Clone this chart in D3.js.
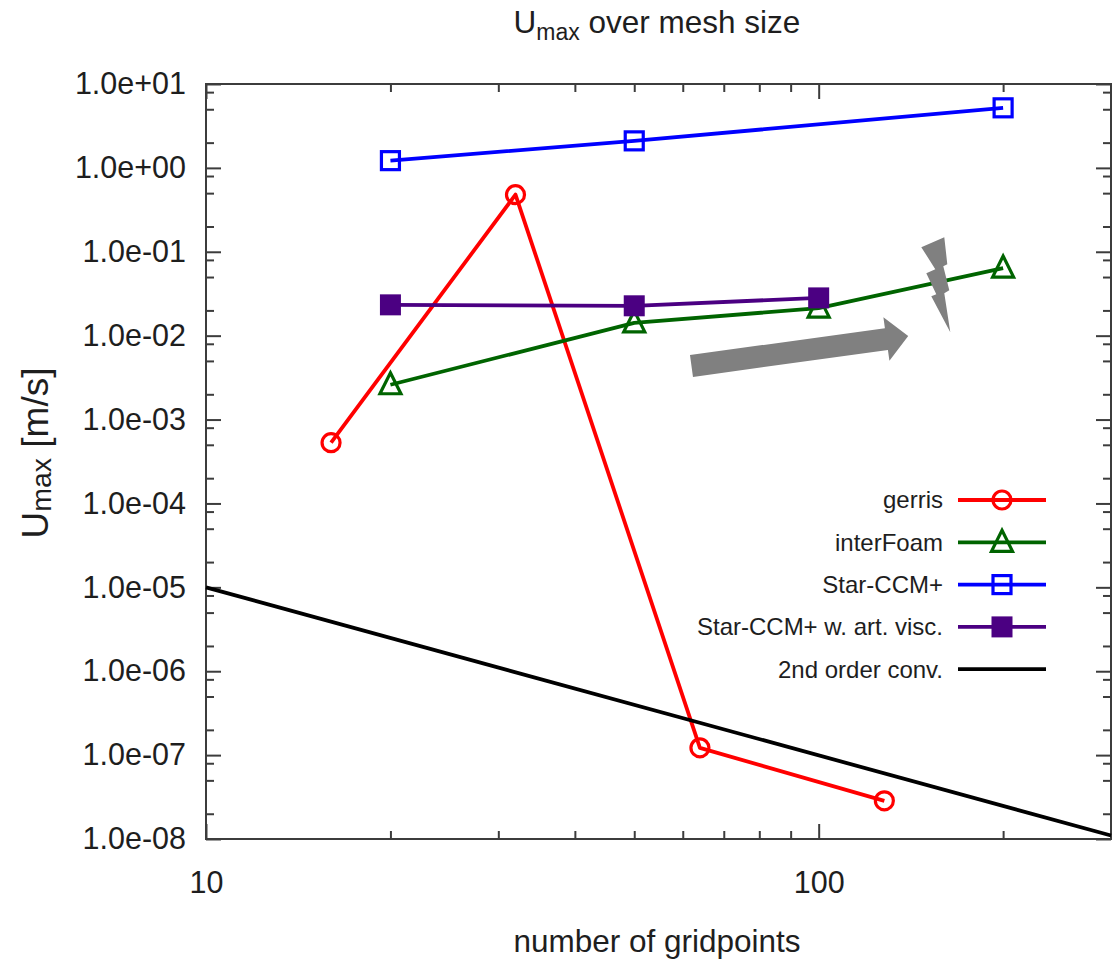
<!DOCTYPE html>
<html>
<head>
<meta charset="utf-8">
<script src="https://cdn.jsdelivr.net/npm/d3@7"></script>
<style>
  html, body { margin: 0; padding: 0; background: #fff; }
  svg { display: block; font-family: "Liberation Sans", Arial, sans-serif; }
</style>
</head>
<body>
<svg id="chart" width="1115" height="966"></svg>
<script>
// ---- data: maximum velocity vs. number of grid points ----
const gerrisX = [16, 32, 64, 128];
const gerrisY = [5.3e-4, 0.48, 1.22e-7, 2.85e-8];

const interFoamX = [20, 50, 100, 200];
const interFoamY = [2.6e-3, 0.0142, 0.0213, 0.064];

const starX = [20, 50, 200];
const starY = [1.22, 2.1, 5.2];

const starViscX = [20, 50, 100];
const starViscY = [0.0233, 0.0227, 0.0282];

const convX = [10, 300];
const convY = [1e-5, 1.1e-8];

// ---- axes ----
const xMajorTicks = [10, 100];
const xMajorLabels = ["10", "100"];
const xMinorTicks = [20, 30, 40, 50, 60, 70, 80, 90, 200];

const yMajorTicks = [1e1, 1e0, 1e-1, 1e-2, 1e-3, 1e-4, 1e-5, 1e-6, 1e-7, 1e-8];
const yMajorLabels = ["1.0e+01", "1.0e+00", "1.0e-01", "1.0e-02", "1.0e-03",
                      "1.0e-04", "1.0e-05", "1.0e-06", "1.0e-07", "1.0e-08"];
const yMinorMultipliers = [2, 5, 8];

const seriesNames = ["gerris", "interFoam", "Star-CCM+", "Star-CCM+ w. art. visc.", "2nd order conv."];
const seriesColors = ["#ff0000", "#006400", "#0000ff", "#4b0082", "#000000"];
const seriesMarkers = ["circle", "triangle", "square", "squareFilled", "none"];

// ---- layout ----
const svg = d3.select("#chart");
const plotLeft = 206, plotRight = 1111, plotTop = 84, plotBottom = 839;

const x = d3.scaleLog().domain([10, 300]).range([plotLeft, plotRight]);
const y = d3.scaleLog().domain([1e-8, 1e1]).range([plotBottom, plotTop]);

const axisColor = "#3c3c3c";
const textColor = "#1e1e1e";

// minor y ticks: 2, 5, 8 in each decade
const yMinorTicks = [];
yMajorTicks.slice(1).forEach(d => yMinorMultipliers.forEach(m => yMinorTicks.push(d * m)));

function styleAxis(g) {
  g.select(".domain").remove();
  g.selectAll("line").attr("stroke", axisColor).attr("stroke-width", 2);
  g.selectAll("text").attr("fill", textColor).attr("font-size", 30.5)
    .attr("font-family", '"Liberation Sans", Arial, sans-serif');
}

// left
svg.append("g").attr("transform", `translate(${plotLeft},0)`)
  .call(d3.axisLeft(y).tickValues(yMajorTicks).tickSizeInner(-15).tickSizeOuter(0).tickPadding(20)
    .tickFormat((d, i) => yMajorLabels[i]))
  .call(styleAxis);
svg.append("g").attr("transform", `translate(${plotLeft},0)`)
  .call(d3.axisLeft(y).tickValues(yMinorTicks).tickSizeInner(-8).tickSizeOuter(0).tickFormat(""))
  .call(styleAxis);
// right (mirror)
svg.append("g").attr("transform", `translate(${plotRight},0)`)
  .call(d3.axisRight(y).tickValues(yMajorTicks).tickSizeInner(-15).tickSizeOuter(0).tickFormat(""))
  .call(styleAxis);
svg.append("g").attr("transform", `translate(${plotRight},0)`)
  .call(d3.axisRight(y).tickValues(yMinorTicks).tickSizeInner(-8).tickSizeOuter(0).tickFormat(""))
  .call(styleAxis);
// bottom
svg.append("g").attr("transform", `translate(0,${plotBottom})`)
  .call(d3.axisBottom(x).tickValues(xMajorTicks).tickSizeInner(-15).tickSizeOuter(0).tickPadding(32)
    .tickFormat((d, i) => xMajorLabels[i]))
  .call(styleAxis);
svg.append("g").attr("transform", `translate(0,${plotBottom})`)
  .call(d3.axisBottom(x).tickValues(xMinorTicks).tickSizeInner(-8).tickSizeOuter(0).tickFormat(""))
  .call(styleAxis);
// top (mirror)
svg.append("g").attr("transform", `translate(0,${plotTop})`)
  .call(d3.axisTop(x).tickValues(xMajorTicks).tickSizeInner(-15).tickSizeOuter(0).tickFormat(""))
  .call(styleAxis);
svg.append("g").attr("transform", `translate(0,${plotTop})`)
  .call(d3.axisTop(x).tickValues(xMinorTicks).tickSizeInner(-8).tickSizeOuter(0).tickFormat(""))
  .call(styleAxis);

// frame
svg.append("rect")
  .attr("x", plotLeft).attr("y", plotTop)
  .attr("width", plotRight - plotLeft).attr("height", plotBottom - plotTop)
  .attr("fill", "none").attr("stroke", axisColor).attr("stroke-width", 2);

// ---- series ----
const allSeries = [
  { xs: gerrisX, ys: gerrisY },
  { xs: interFoamX, ys: interFoamY },
  { xs: starX, ys: starY },
  { xs: starViscX, ys: starViscY },
  { xs: convX, ys: convY }
];

function drawMarker(g, type, color, cx, cy) {
  const sw = 3.2;
  if (type === "circle") {
    g.append("circle").attr("cx", cx).attr("cy", cy).attr("r", 9)
      .attr("fill", "none").attr("stroke", color).attr("stroke-width", sw);
  } else if (type === "triangle") {
    g.append("path")
      .attr("d", `M${cx},${cy - 12} L${cx + 10.5},${cy + 9} L${cx - 10.5},${cy + 9} Z`)
      .attr("fill", "none").attr("stroke", color).attr("stroke-width", sw)
      .attr("stroke-linejoin", "miter");
  } else if (type === "square") {
    g.append("rect").attr("x", cx - 9).attr("y", cy - 9).attr("width", 18).attr("height", 18)
      .attr("fill", "none").attr("stroke", color).attr("stroke-width", sw);
  } else if (type === "squareFilled") {
    g.append("rect").attr("x", cx - 10.5).attr("y", cy - 10.5).attr("width", 21).attr("height", 21)
      .attr("fill", color).attr("stroke", "none");
  }
}

const line = d3.line().x(d => x(d[0])).y(d => y(d[1]));
const plot = svg.append("g");

allSeries.forEach((s, i) => {
  const pts = s.xs.map((v, k) => [v, s.ys[k]]);
  const g = plot.append("g");
  g.append("path").datum(pts).attr("d", line)
    .attr("fill", "none").attr("stroke", seriesColors[i])
    .attr("stroke-width", 3.8).attr("stroke-linejoin", "round");
  pts.forEach(p => drawMarker(g, seriesMarkers[i], seriesColors[i], x(p[0]), y(p[1])));
});

// ---- annotations: trend arrow and break marker ----
const arrowFrom = [62, 4.35e-3];
const arrowTo = [140, 9.9e-3];
const boltAt = [155, 0.040];
const annotColor = "#808080";

(function drawArrow() {
  const x0 = x(arrowFrom[0]), y0 = y(arrowFrom[1]);
  const x1 = x(arrowTo[0]), y1 = y(arrowTo[1]);
  const len = Math.hypot(x1 - x0, y1 - y0);
  const ang = Math.atan2(y1 - y0, x1 - x0) * 180 / Math.PI;
  const hw = 11, hh = 22, hl = 22;
  const pts = [[0, -hw], [len - hl, -hw], [len - hl, -hh], [len, 0], [len - hl, hh], [len - hl, hw], [0, hw]];
  svg.append("path")
    .attr("d", "M" + pts.map(p => p.join(",")).join("L") + "Z")
    .attr("transform", `translate(${x0},${y0}) rotate(${ang})`)
    .attr("fill", annotColor);
})();

(function drawBolt() {
  const cx = x(boltAt[0]), cy = y(boltAt[1]);
  const shape = [[-14, -38], [9, -48], [12, -21], [8, -19], [14, 5], [9, 8], [15, 47],
                 [-4, 11], [1, 9], [-9, -12], [0, -16]];
  svg.append("path")
    .attr("d", "M" + shape.map(p => `${cx + p[0]},${cy + p[1]}`).join("L") + "Z")
    .attr("fill", annotColor);
})();

// ---- legend ----
const legend = svg.append("g");
const legX = 943, legY0 = 500, legDy = 42.3;
seriesNames.forEach((name, i) => {
  const ly = legY0 + i * legDy;
  legend.append("text").attr("x", legX).attr("y", ly).attr("dy", "0.35em")
    .attr("text-anchor", "end").attr("font-size", 24).attr("fill", textColor).text(name);
  legend.append("line").attr("x1", 958).attr("x2", 1046).attr("y1", ly).attr("y2", ly)
    .attr("stroke", seriesColors[i]).attr("stroke-width", 3.8);
  drawMarker(legend, seriesMarkers[i], seriesColors[i], 1002, ly);
});

// ---- titles ----
const title = svg.append("text").attr("x", 657).attr("y", 33).attr("text-anchor", "middle")
  .attr("font-size", 31.5).attr("fill", textColor);
title.append("tspan").text("U");
title.append("tspan").attr("font-size", 23).attr("dy", 7).text("max");
title.append("tspan").attr("dy", -7).text(" over mesh size");

svg.append("text").attr("x", 657).attr("y", 952).attr("text-anchor", "middle")
  .attr("font-size", 31.5).attr("fill", textColor).text("number of gridpoints");

const ylab = svg.append("text").attr("transform", "translate(48,453) rotate(-90)")
  .attr("text-anchor", "middle").attr("font-size", 37).attr("fill", textColor);
ylab.append("tspan").text("U");
ylab.append("tspan").attr("font-size", 28.5).attr("dy", 3).text("max");
ylab.append("tspan").attr("dy", -3).text(" [m/s]");
</script>
</body>
</html>
